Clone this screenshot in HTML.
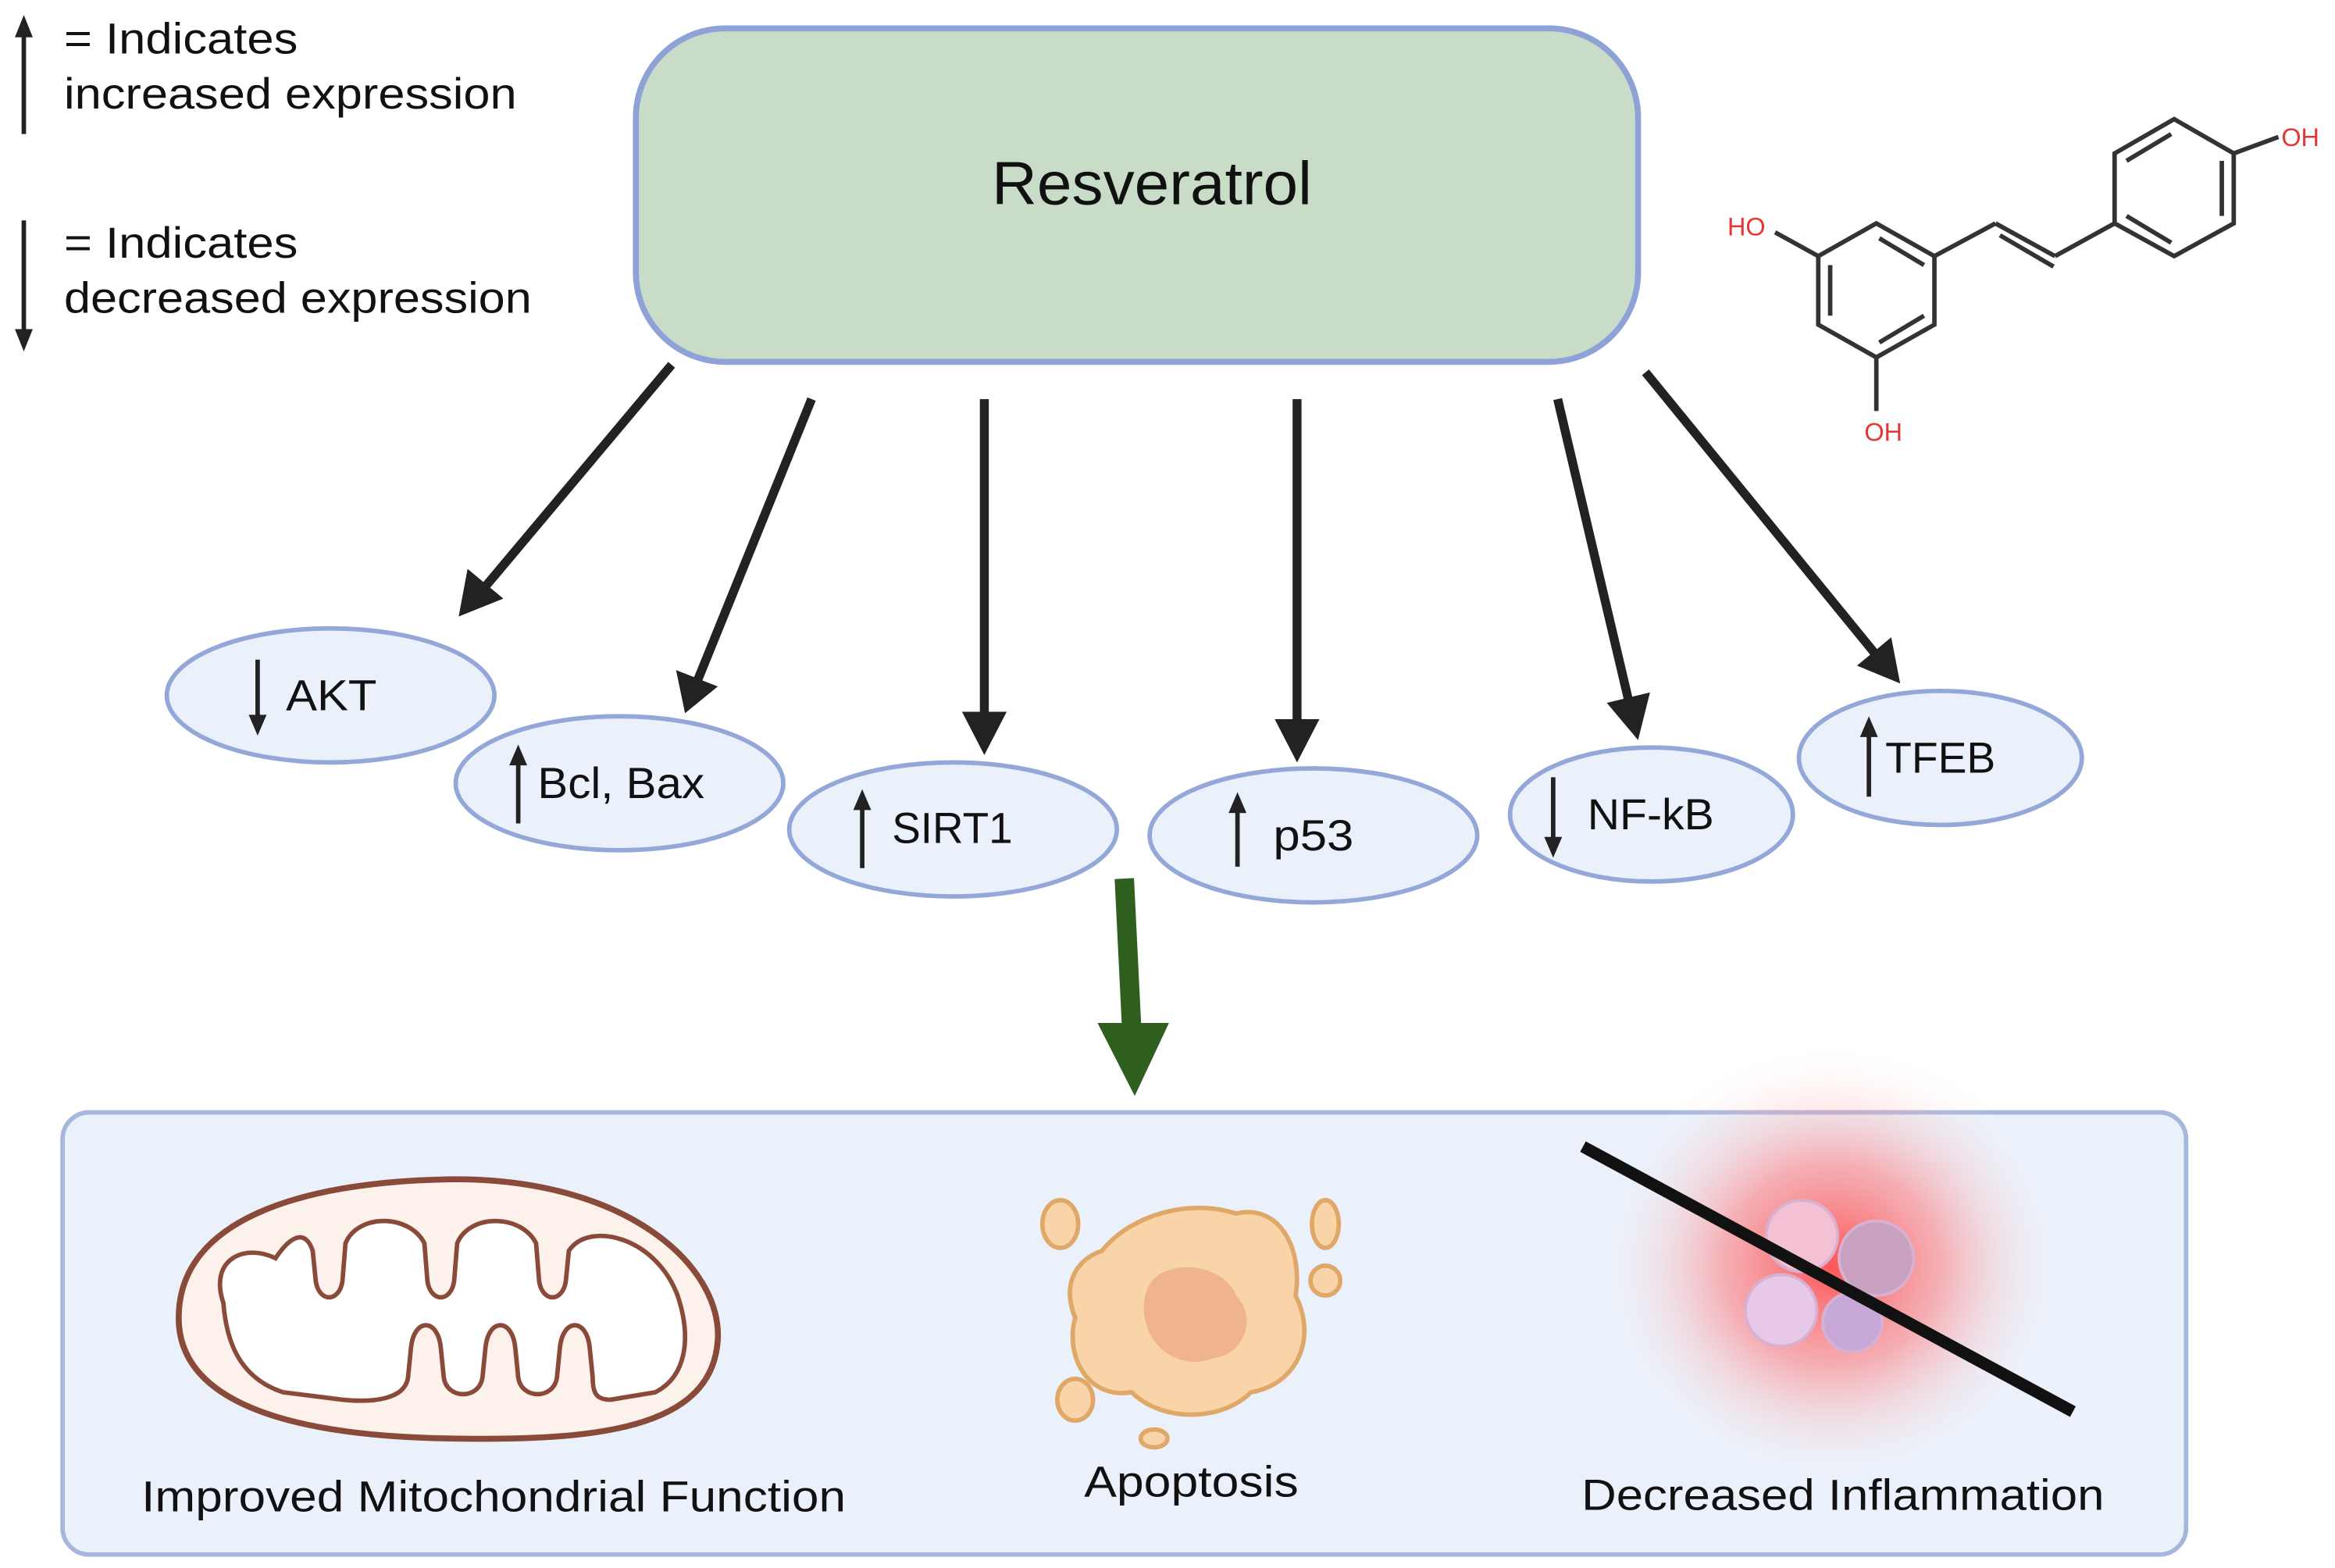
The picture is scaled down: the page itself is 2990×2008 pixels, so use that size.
<!DOCTYPE html>
<html><head><meta charset="utf-8"><style>
html,body{margin:0;padding:0;background:#fff;}
svg{display:block;}
text{font-family:"Liberation Sans",sans-serif;fill:#111;}
</style></head><body>
<svg width="2990" height="2008" viewBox="0 0 1568 1053" xmlns="http://www.w3.org/2000/svg">
<defs>
<radialGradient id="glow" cx="50%" cy="50%" r="50%">
<stop offset="0%" stop-color="#ff3b3b" stop-opacity="0.85"/>
<stop offset="45%" stop-color="#ff6a6a" stop-opacity="0.5"/>
<stop offset="100%" stop-color="#ffffff" stop-opacity="0"/>
</radialGradient>
</defs>
<rect width="1568" height="1053" fill="#fff"/>

<!-- legend -->
<line x1="16" y1="22" x2="16" y2="90" stroke="#222" stroke-width="3"/>
<polygon points="16,10 10,25 22,25" fill="#222"/>
<text x="43" y="36" font-size="29" textLength="157" lengthAdjust="spacingAndGlyphs">= Indicates</text>
<text x="43" y="73" font-size="29" textLength="304" lengthAdjust="spacingAndGlyphs">increased expression</text>
<line x1="16" y1="148" x2="16" y2="222" stroke="#222" stroke-width="3"/>
<polygon points="16,236 10,221 22,221" fill="#222"/>
<text x="43" y="173" font-size="29" textLength="157" lengthAdjust="spacingAndGlyphs">= Indicates</text>
<text x="43" y="210" font-size="29" textLength="314" lengthAdjust="spacingAndGlyphs">decreased expression</text>

<!-- Resveratrol box -->
<rect x="427" y="19" width="673" height="224" rx="60" fill="#c8dcc8" stroke="#8ea2d8" stroke-width="4"/>
<text x="666" y="137" font-size="41" textLength="215" lengthAdjust="spacingAndGlyphs">Resveratrol</text>

<!-- molecule -->
<g stroke="#333" stroke-width="3" fill="none">
<polygon points="1260,150 1299,172 1299,218 1260,240 1221,218 1221,172"/>
<line x1="1229" y1="178" x2="1229" y2="212"/><line x1="1292" y1="212" x2="1262" y2="230"/><line x1="1262" y1="160" x2="1292" y2="178"/>
<line x1="1221" y1="172" x2="1192" y2="156"/>
<line x1="1260" y1="240" x2="1260" y2="276"/>
<line x1="1299" y1="172" x2="1340" y2="150"/><line x1="1340" y1="150" x2="1380" y2="172"/><line x1="1343" y1="158" x2="1379" y2="179"/>
<line x1="1380" y1="172" x2="1420" y2="150"/>
<polygon points="1420,103 1460,80 1500,103 1500,150 1460,172 1420,150"/>
<line x1="1428" y1="108" x2="1458" y2="90"/><line x1="1492" y1="108" x2="1492" y2="145"/><line x1="1428" y1="145" x2="1458" y2="163"/>
<line x1="1500" y1="103" x2="1530" y2="92"/>
</g>
<text x="1160" y="158" font-size="17" style="fill:#e53535">HO</text>
<text x="1252" y="296" font-size="17" style="fill:#e53535">OH</text>
<text x="1532" y="98" font-size="17" style="fill:#e53535">OH</text>

<!-- arrows -->
<g stroke="#222" stroke-width="6">
<line x1="451" y1="245" x2="325" y2="395"/>
<line x1="545" y1="268" x2="468" y2="458"/>
<line x1="661" y1="268" x2="661" y2="482"/>
<line x1="871" y1="268" x2="871" y2="488"/>
<line x1="1046" y1="268" x2="1094" y2="472"/>
<line x1="1105" y1="250" x2="1260" y2="440"/>
</g>
<g fill="#222">
<polygon points="308,414 314,382 338,402"/>
<polygon points="460,479 454,450 482,461"/>
<polygon points="661,507 646,478 676,478"/>
<polygon points="871,512 856,483 886,483"/>
<polygon points="1100,497 1079,472 1108,465"/>
<polygon points="1276,459 1247,447 1270,428"/>
</g>

<!-- ellipses -->
<g fill="#eaf1fb" stroke="#93a8d8" stroke-width="3">
<ellipse cx="222" cy="467" rx="110" ry="45"/>
<ellipse cx="416" cy="526" rx="110" ry="45"/>
<ellipse cx="640" cy="557" rx="110" ry="45"/>
<ellipse cx="882" cy="561" rx="110" ry="45"/>
<ellipse cx="1109" cy="547" rx="95" ry="45"/>
<ellipse cx="1303" cy="509" rx="95" ry="45"/>
</g>
<g stroke="#222" stroke-width="3">
<line x1="173" y1="443" x2="173" y2="483"/>
<line x1="348" y1="510" x2="348" y2="553"/>
<line x1="579" y1="540" x2="579" y2="583"/>
<line x1="831" y1="543" x2="831" y2="582"/>
<line x1="1043" y1="522" x2="1043" y2="565"/>
<line x1="1255" y1="492" x2="1255" y2="535"/>
</g>
<g fill="#222">
<polygon points="173,494 167,480 179,480"/>
<polygon points="348,500 342,514 354,514"/>
<polygon points="579,530 573,544 585,544"/>
<polygon points="831,532 825,546 837,546"/>
<polygon points="1043,576 1037,562 1049,562"/>
<polygon points="1255,481 1249,495 1261,495"/>
</g>
<g font-size="29">
<text x="192" y="477" textLength="61" lengthAdjust="spacingAndGlyphs">AKT</text>
<text x="361" y="536" textLength="112" lengthAdjust="spacingAndGlyphs">Bcl, Bax</text>
<text x="599" y="566" textLength="81" lengthAdjust="spacingAndGlyphs">SIRT1</text>
<text x="855" y="571" textLength="54" lengthAdjust="spacingAndGlyphs">p53</text>
<text x="1066" y="557" textLength="85" lengthAdjust="spacingAndGlyphs">NF-kB</text>
<text x="1266" y="519" textLength="74" lengthAdjust="spacingAndGlyphs">TFEB</text>
</g>

<!-- green arrow -->
<line x1="755" y1="590" x2="760" y2="692" stroke="#2f5f1e" stroke-width="13"/>
<polygon points="737,687 785,687 762,736" fill="#2f5f1e"/>

<!-- bottom box -->
<rect x="42" y="747" width="1426" height="297" rx="18" fill="#eaf1fb" stroke="#a6b6dc" stroke-width="3"/>

<!-- mitochondrion -->
<path d="M300,792 C420,790 485,850 482,900 C478,960 400,968 300,966 C190,964 120,940 120,885 C120,820 200,794 300,792 Z" fill="#fdf1ec" stroke="#8a4a3a" stroke-width="4"/>
<path d="M150,875 C140,845 165,835 185,845 C195,830 205,825 210,840 L212,860 C214,875 228,875 230,860 L232,835 C240,815 275,815 285,835 L287,860 C289,875 303,875 305,860 L307,835 C315,815 350,815 360,835 L362,860 C364,875 378,875 380,860 L382,840 C395,820 440,830 455,870 C465,900 460,925 440,935 L410,940 C400,940 398,935 398,925 L396,905 C394,885 378,885 376,905 L374,925 C372,940 350,940 348,925 L346,905 C344,885 328,885 326,905 L324,925 C322,940 300,940 298,925 L296,905 C294,885 278,885 276,905 L274,925 C272,940 250,942 230,940 L190,935 C160,925 152,900 150,875 Z" fill="#fff" stroke="#8a4a3a" stroke-width="3"/>

<!-- apoptosis -->
<path d="M740,840 C760,815 800,805 830,815 C860,808 875,840 870,870 C885,900 870,930 840,935 C820,955 780,955 760,935 C730,940 715,910 722,885 C712,860 725,845 740,840 Z" fill="#f8d4a8" stroke="#e0a868" stroke-width="3"/>
<path d="M780,855 C800,845 825,855 830,870 C845,885 835,910 815,912 C795,920 775,908 770,890 C765,875 770,860 780,855 Z" fill="#f0b48c"/>
<g fill="#f8d4a8" stroke="#e0a868" stroke-width="3">
<ellipse cx="712" cy="822" rx="12" ry="16"/>
<ellipse cx="890" cy="822" rx="9" ry="16"/>
<ellipse cx="890" cy="860" rx="10" ry="10"/>
<ellipse cx="722" cy="940" rx="12" ry="14"/>
<ellipse cx="775" cy="966" rx="9" ry="6"/>
</g>

<!-- inflammation -->
<ellipse cx="1230" cy="850" rx="160" ry="150" fill="url(#glow)"/>
<g stroke="#d8b0d0" stroke-width="2">
<circle cx="1210" cy="830" r="24" fill="#f4c0d4"/>
<circle cx="1260" cy="845" r="25" fill="#c8a0c0"/>
<circle cx="1196" cy="880" r="24" fill="#e8c8e8"/>
<circle cx="1244" cy="888" r="20" fill="#c8a8d8"/>
</g>
<line x1="1063" y1="770" x2="1392" y2="948" stroke="#111" stroke-width="8"/>

<g font-size="29">
<text x="95" y="1015" textLength="473" lengthAdjust="spacingAndGlyphs">Improved Mitochondrial Function</text>
<text x="728" y="1005" textLength="144" lengthAdjust="spacingAndGlyphs">Apoptosis</text>
<text x="1062" y="1014" textLength="351" lengthAdjust="spacingAndGlyphs">Decreased Inflammation</text>
</g>
</svg>
</body></html>
